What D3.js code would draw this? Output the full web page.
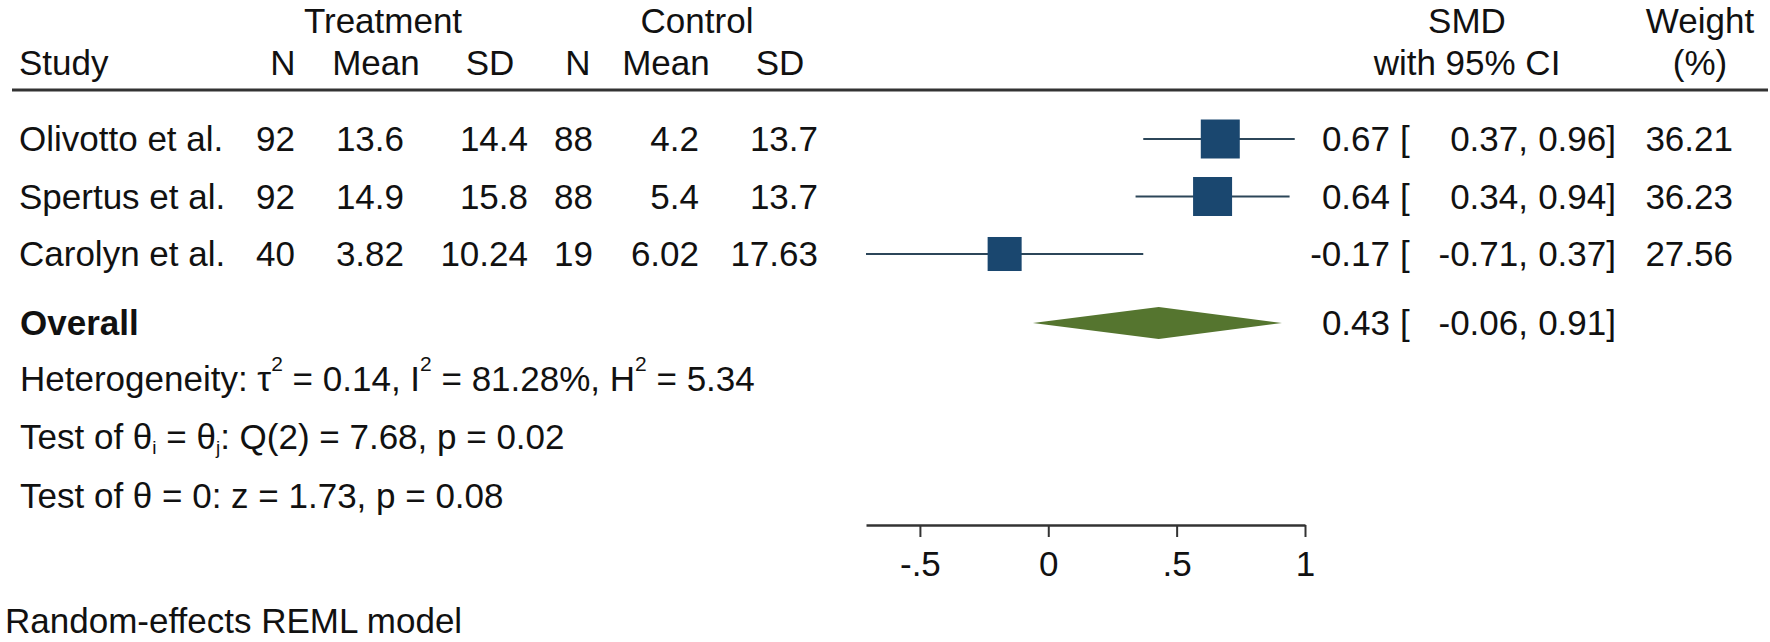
<!DOCTYPE html>
<html lang="en">
  <head>
    <meta charset="utf-8">
    <title>Forest plot</title>
    <script type="text/javascript" src="https://cdn.jsdelivr.net/npm/d3@7/dist/d3.min.js"></script>
    <style>
      body { margin: 0; background: #fff; }
      text { font-family: "Liberation Sans", Arial, sans-serif; font-size: 35px; fill: #111; }
    </style>
  </head>
  <body>
    <script type="text/javascript">
      var w = 1770;
      var h = 642;

      // data
      var studies = ["Olivotto et al.", "Spertus et al.", "Carolyn et al."];
      var trtN = [92, 92, 40];
      var trtMean = [13.6, 14.9, 3.82];
      var trtSD = [14.4, 15.8, 10.24];
      var ctlN = [88, 88, 19];
      var ctlMean = [4.2, 5.4, 6.02];
      var ctlSD = [13.7, 13.7, 17.63];
      var smd = [0.67, 0.64, -0.17];
      var ciLow = [0.37, 0.34, -0.71];
      var ciHigh = [0.96, 0.94, 0.37];
      var weights = [36.21, 36.23, 27.56];
      var overall = [0.43, -0.06, 0.91];   // estimate, low, high
      var tickValues = [-0.5, 0, 0.5, 1];
      var tickLabels = ["-.5", "0", ".5", "1"];

      // plain hyphen for negatives, like the stata output
      var f2 = d3.formatLocale({decimal: ".", thousands: ",", grouping: [3],
                                currency: ["", ""], minus: "-"}).format(".2f");

      var svg = d3.select("body")
                  .append("svg")
                  .attr("width", w)
                  .attr("height", h);

      svg.append("rect")
         .attr("width", w)
         .attr("height", h)
         .attr("fill", "#fff");

      var xScale = d3.scaleLinear()
                     .domain([d3.min(ciLow), d3.max(tickValues)])
                     .range([866, 1305]);

      var yScale = d3.scalePoint()
                     .domain(studies)
                     .range([139, 254]);

      var sizeScale = d3.scaleSqrt()
                        .domain([0, d3.max(weights)])
                        .range([0, 39]);

      var overallY = 323;
      var textShift = 12;

      // header
      var head1 = [["Treatment", 383], ["Control", 697], ["SMD", 1467], ["Weight", 1700]];
      svg.selectAll("text.head1")
         .data(head1)
         .enter()
         .append("text")
         .attr("class", "head1")
         .attr("x", function (d) { return d[1]; })
         .attr("y", 33)
         .attr("text-anchor", "middle")
         .text(function (d) { return d[0]; });

      var head2 = [["N", 283], ["Mean", 376], ["SD", 490], ["N", 578], ["Mean", 666], ["SD", 780],
                   ["with 95% CI", 1467], ["(%)", 1700]];
      svg.selectAll("text.head2")
         .data(head2)
         .enter()
         .append("text")
         .attr("class", "head2")
         .attr("x", function (d) { return d[1]; })
         .attr("y", 75)
         .attr("text-anchor", "middle")
         .text(function (d) { return d[0]; });

      svg.append("text")
         .attr("x", 19)
         .attr("y", 75)
         .text("Study");

      svg.append("line")
         .attr("x1", 12)
         .attr("x2", 1768)
         .attr("y1", 90)
         .attr("y2", 90)
         .attr("stroke", "#333")
         .attr("stroke-width", 3);

      // study rows: text columns
      svg.selectAll("text.study")
         .data(studies)
         .enter()
         .append("text")
         .attr("class", "study")
         .attr("x", 19)
         .attr("y", function (d) { return yScale(d) + textShift; })
         .text(function (d) { return d; });

      var columns = [
        [trtN, 295, String], [trtMean, 404, String], [trtSD, 528, String],
        [ctlN, 593, String], [ctlMean, 699, String], [ctlSD, 818, String],
        [smd, 1390, f2],
        [ciLow, 1528, function (v) { return f2(v) + ","; }],
        [ciHigh, 1616, function (v) { return f2(v) + "]"; }],
        [weights, 1733, f2]
      ];
      columns.forEach(function (col) {
        svg.append("g")
           .selectAll("text")
           .data(col[0])
           .enter()
           .append("text")
           .attr("x", col[1])
           .attr("y", function (d, i) { return yScale(studies[i]) + textShift; })
           .attr("text-anchor", "end")
           .text(col[2]);
      });

      svg.append("g")
         .selectAll("text")
         .data(studies)
         .enter()
         .append("text")
         .attr("x", 1400)
         .attr("y", function (d) { return yScale(d) + textShift; })
         .text("[");

      // CI lines and squares
      svg.selectAll("line.ci")
         .data(studies)
         .enter()
         .append("line")
         .attr("class", "ci")
         .attr("x1", function (d, i) { return xScale(ciLow[i]); })
         .attr("x2", function (d, i) { return xScale(ciHigh[i]); })
         .attr("y1", function (d) { return yScale(d); })
         .attr("y2", function (d) { return yScale(d); })
         .attr("stroke", "#2c4659")
         .attr("stroke-width", 2.2);

      svg.selectAll("rect.box")
         .data(studies)
         .enter()
         .append("rect")
         .attr("class", "box")
         .attr("x", function (d, i) { return xScale(smd[i]) - sizeScale(weights[i]) / 2; })
         .attr("y", function (d, i) { return yScale(d) - sizeScale(weights[i]) / 2; })
         .attr("width", function (d, i) { return sizeScale(weights[i]); })
         .attr("height", function (d, i) { return sizeScale(weights[i]); })
         .attr("fill", "#1a476f");

      // overall row
      svg.append("text")
         .attr("x", 20)
         .attr("y", overallY + textShift)
         .attr("font-weight", "bold")
         .text("Overall");

      svg.append("path")
         .attr("d", "M" + xScale(overall[1]) + "," + overallY +
                    "L" + xScale(overall[0]) + "," + (overallY - 16) +
                    "L" + xScale(overall[2]) + "," + overallY +
                    "L" + xScale(overall[0]) + "," + (overallY + 16) + "Z")
         .attr("fill", "#55752f");

      var overallText = [[f2(overall[0]), 1390, "end"], ["[", 1400, "start"],
                         [f2(overall[1]) + ",", 1528, "end"], [f2(overall[2]) + "]", 1616, "end"]];
      svg.selectAll("text.ov")
         .data(overallText)
         .enter()
         .append("text")
         .attr("class", "ov")
         .attr("x", function (d) { return d[1]; })
         .attr("y", overallY + textShift)
         .attr("text-anchor", function (d) { return d[2]; })
         .text(function (d) { return d[0]; });

      // heterogeneity and tests
      var het = svg.append("text").attr("x", 20).attr("y", 391);
      het.append("tspan").text("Heterogeneity: \u03c4");
      het.append("tspan").attr("font-size", "21px").attr("dy", -20).text("2");
      het.append("tspan").attr("dy", 20).text(" = 0.14, I");
      het.append("tspan").attr("font-size", "21px").attr("dy", -20).text("2");
      het.append("tspan").attr("dy", 20).text(" = 81.28%, H");
      het.append("tspan").attr("font-size", "21px").attr("dy", -20).text("2");
      het.append("tspan").attr("dy", 20).text(" = 5.34");

      var t1 = svg.append("text").attr("x", 20).attr("y", 449);
      t1.append("tspan").text("Test of \u03b8");
      t1.append("tspan").attr("font-size", "19px").attr("dy", 5).text("i");
      t1.append("tspan").attr("dy", -5).text(" = \u03b8");
      t1.append("tspan").attr("font-size", "19px").attr("dy", 5).text("j");
      t1.append("tspan").attr("dy", -5).text(": Q(2) = 7.68, p = 0.02");

      svg.append("text")
         .attr("x", 20)
         .attr("y", 508)
         .text("Test of \u03b8 = 0: z = 1.73, p = 0.08");

      // axis
      var xAxis = d3.axisBottom(xScale)
                    .tickValues(tickValues)
                    .tickFormat(function (d, i) { return tickLabels[i]; })
                    .tickSize(12)
                    .tickPadding(14)
                    .tickSizeOuter(0);

      var gx = svg.append("g")
                  .attr("transform", "translate(0,525)")
                  .call(xAxis);
      gx.select(".domain").attr("stroke", "#333").attr("stroke-width", 2.5);
      gx.selectAll(".tick line").attr("stroke", "#333").attr("stroke-width", 2);
      gx.selectAll(".tick text")
        .attr("font-family", "Liberation Sans, Arial, sans-serif")
        .attr("font-size", "35px")
        .attr("fill", "#111");

      svg.append("text")
         .attr("x", 5)
         .attr("y", 633)
         .text("Random-effects REML model");
    </script>
  </body>
</html>
